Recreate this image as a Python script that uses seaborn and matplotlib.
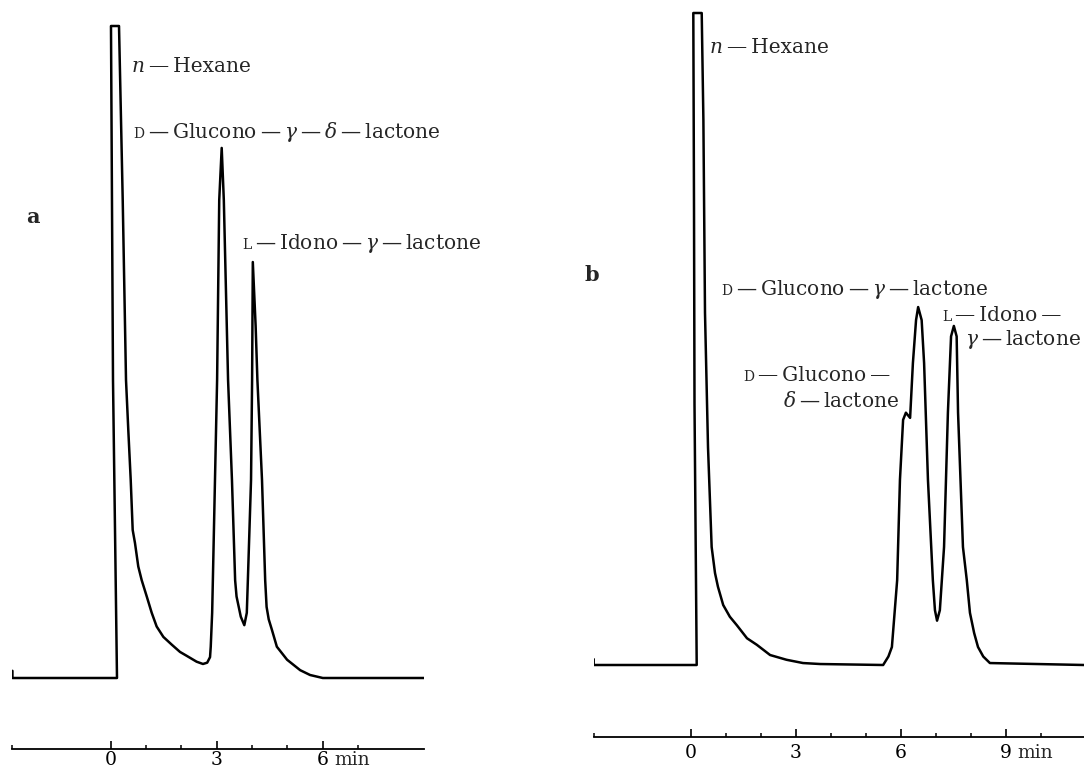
import numpy as np
import pandas as pd
import seaborn as sns
import matplotlib.pyplot as plt

# chromatogram a: time (min) vs detector signal (recorder units, 100 = full scale)
time_a = [-2.78, -2.78, 0.178, 0.065, 0.008, 0.235, 0.34, 0.433, 0.498, 0.566, 0.622,
          0.687, 0.78, 0.877, 1.02, 1.16, 1.30, 1.49, 1.73, 1.96, 2.15, 2.43, 2.61,
          2.73, 2.81, 2.83, 2.87, 2.89, 2.95, 3.01, 3.07, 3.14, 3.20, 3.32, 3.43, 3.52,
          3.56, 3.68, 3.78, 3.85, 3.88, 3.97, 4.00, 4.02, 4.10, 4.15, 4.28, 4.37, 4.41,
          4.47, 4.56, 4.70, 4.99, 5.36, 5.64, 6.00, 8.86]
signal_a = [1.1, 0.0, 0.0, 45.7, 100.0, 100.0, 73.3, 45.7, 38.0, 30.4, 22.7,
            20.7, 17.1, 15.0, 12.5, 10.0, 7.9, 6.3, 5.1, 4.0, 3.4, 2.5, 2.15,
            2.35, 3.2, 4.8, 10.0, 15.0, 30.4, 45.7, 73.3, 81.3, 73.3, 45.7, 30.4, 15.0,
            12.5, 9.4, 8.1, 10.0, 15.0, 30.4, 45.7, 63.8, 54.0, 45.7, 30.4, 15.0, 10.9,
            9.0, 7.4, 4.8, 2.8, 1.2, 0.46, 0.0, 0.0]

# chromatogram b
time_b = [-2.78, -2.78, 0.163, 0.10, 0.086, 0.066, 0.306, 0.354, 0.40, 0.486, 0.59,
          0.686, 0.77, 0.92, 1.11, 1.31, 1.60, 1.88, 2.26, 2.73, 3.20, 3.69, 5.49,
          5.64, 5.74, 5.89, 5.97, 6.06, 6.14, 6.26, 6.34, 6.43, 6.49, 6.59, 6.66, 6.77,
          6.91, 6.97, 7.03, 7.11, 7.23, 7.34, 7.43, 7.51, 7.59, 7.63, 7.77, 7.88, 7.97,
          8.09, 8.20, 8.35, 8.54, 11.23]
signal_b = [0.9, 0.0, 0.0, 40.0, 70.0, 100.0, 100.0, 83.6, 54.0, 33.4, 18.1,
            14.1, 12.0, 9.2, 7.4, 6.1, 4.1, 3.1, 1.53, 0.8, 0.3, 0.15, 0.0,
            1.3, 2.76, 13.0, 28.4, 37.6, 38.7, 37.9, 46.3, 52.9, 54.9, 52.9, 46.3, 28.4,
            13.0, 8.4, 6.8, 8.4, 18.1, 38.7, 50.4, 52.0, 50.4, 38.7, 18.1, 13.0, 8.0,
            4.9, 2.76, 1.3, 0.3, 0.0]

major_a = [0, 3, 6]
major_b = [0, 3, 6, 9]
minor_a = [-2.78, 1, 2, 4, 5, 7]
minor_b = [-2.78, 1, 2, 4, 5, 7, 8, 10]

DASH = "\u2009\u2014\u2009"
GAMMA = r"$\gamma$"
DELTA = r"$\delta$"

# layout read from the page, in pixels
W, H = 1084, 769
panels = {
    "a": dict(zero_px=110.7, ppm=35.35, base_px=678, ppu=6.52, xlim=(-2.78, 8.86),
              ylim=(-12, 101), axis_y=-10.9, pad=1.4),
    "b": dict(zero_px=691.0, ppm=35.0, base_px=665, ppu=6.52, xlim=(-2.78, 11.23),
              ylim=(-12.5, 101), axis_y=-11.1, pad=4.5),
}

sns.set_style("white")
plt.rcParams["font.family"] = ["DejaVu Serif"]
plt.rcParams["mathtext.fontset"] = "dejavuserif"

fig = plt.figure(figsize=(W / 100, H / 100), dpi=100)


def make_axes(p):
    left = p["zero_px"] + p["xlim"][0] * p["ppm"]
    right = p["zero_px"] + p["xlim"][1] * p["ppm"]
    bottom = p["base_px"] - p["ylim"][0] * p["ppu"]
    top = p["base_px"] - p["ylim"][1] * p["ppu"]
    ax = fig.add_axes([left / W, (H - bottom) / H, (right - left) / W, (bottom - top) / H])
    ax.set_xlim(*p["xlim"])
    ax.set_ylim(*p["ylim"])
    return ax


def style_axis(ax, p, major, minor, unit_at):
    for side in ["left", "right", "top"]:
        ax.spines[side].set_visible(False)
    ax.spines["bottom"].set_position(("data", p["axis_y"]))
    ax.spines["bottom"].set_linewidth(1.3)
    ax.spines["bottom"].set_color("black")
    ax.set_yticks([])
    ax.set_xticks(major)
    ax.set_xticklabels([str(m) for m in major])
    ax.set_xticks(minor, minor=True)
    ax.tick_params(axis="x", which="both", bottom=True, direction="in", color="black")
    ax.tick_params(axis="x", which="major", length=5.5, width=1.2,
                   labelsize=13.5, pad=p["pad"], labelcolor="black")
    ax.tick_params(axis="x", which="minor", length=3, width=1.1)
    ax.annotate("min", xy=(unit_at, p["axis_y"]), xycoords="data",
                xytext=(8.2, -p["pad"]), textcoords="offset points",
                ha="left", va="top", fontsize=13.5, annotation_clip=False)
    ax.set_xlabel("")
    ax.set_ylabel("")


def label(ax, t, s, prefix, rest, italic=False):
    if prefix:
        ax.text(t, s, prefix, ha="right", va="baseline",
                fontsize=14.5 if italic else 10, style="italic" if italic else "normal")
    ax.text(t, s, rest, ha="left", va="baseline", fontsize=14.5)


ax_a = make_axes(panels["a"])
df_a = pd.DataFrame({"time": time_a, "signal": signal_a})
sns.lineplot(data=df_a, x="time", y="signal", ax=ax_a, color="black", linewidth=1.8,
             sort=False, estimator=None)
style_axis(ax_a, panels["a"], major_a, minor_a, 6)
label(ax_a, 0.97, 92.9, "n", DASH + "Hexane", italic=True)
label(ax_a, 0.94, 82.8, "D", DASH + "Glucono" + DASH + GAMMA + DASH + DELTA + DASH + "lactone")
label(ax_a, 3.97, 65.8, "L", DASH + "Idono" + DASH + GAMMA + DASH + "lactone")

ax_b = make_axes(panels["b"])
df_b = pd.DataFrame({"time": time_b, "signal": signal_b})
sns.lineplot(data=df_b, x="time", y="signal", ax=ax_b, color="black", linewidth=1.8,
             sort=False, estimator=None)
style_axis(ax_b, panels["b"], major_b, minor_b, 9)
label(ax_b, 0.914, 93.8, "n", DASH + "Hexane", italic=True)
label(ax_b, 1.17, 56.7, "D", DASH + "Glucono" + DASH + GAMMA + DASH + "lactone")
label(ax_b, 7.43, 52.7, "L", DASH + "Idono" + DASH.rstrip())
label(ax_b, 7.83, 49.1, "", GAMMA + DASH + "lactone")
label(ax_b, 1.80, 43.6, "D", DASH + "Glucono" + DASH.rstrip())
label(ax_b, 2.63, 39.6, "", DELTA + DASH + "lactone")

fig.text(33 / W, 1 - 217 / H, "a", ha="center", va="center", fontsize=15, fontweight="bold")
fig.text(592 / W, 1 - 275 / H, "b", ha="center", va="center", fontsize=15, fontweight="bold")

fig.savefig("out.png", dpi=100)
